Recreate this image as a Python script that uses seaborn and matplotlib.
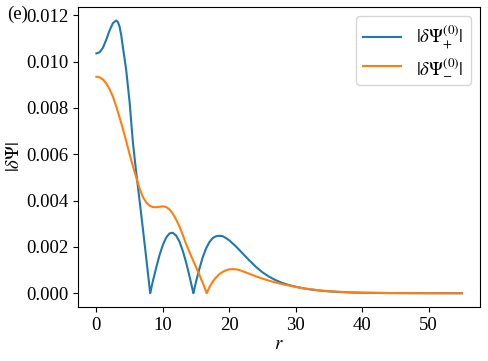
import matplotlib
matplotlib.use("Agg")
import matplotlib.pyplot as plt
import seaborn as sns

# |dPsi_+^(0)| (blue)
r_plus = [0, 0.5, 1.0, 1.5, 2.0, 2.5, 3.0, 3.25, 3.5, 3.75, 4.0, 4.25, 4.5, 5.0, 5.5, 6.0, 6.5,
          7.0, 7.5, 8.0, 8.1,
          8.5, 9.0, 9.5, 10.0, 10.5, 11.0, 11.5, 12.0, 12.5, 13.0, 13.5, 14.0, 14.5, 14.6,
          15.0, 15.5, 16.0, 16.5, 17.0, 17.5, 18.0, 18.5, 19.0, 19.5, 20.0, 21, 22, 23, 24, 25,
          26, 27, 28, 29, 30, 31, 32, 34, 36, 38, 40, 45, 50, 55]
psi_plus = [0.01035, 0.01040, 0.01060, 0.01095, 0.01135, 0.01166, 0.01177, 0.01170, 0.01150,
            0.01112, 0.01060, 0.01012, 0.00960, 0.00825, 0.00650, 0.00520, 0.00400,
            0.00278, 0.00153, 0.00025, 0.0,
            0.00052, 0.00110, 0.00164, 0.00208, 0.00240, 0.00258, 0.00261, 0.00249, 0.00223,
            0.00183, 0.00133, 0.00075, 0.00012, 0.0,
            0.00050, 0.00105, 0.00155, 0.00193, 0.00220, 0.00238, 0.00246, 0.00248, 0.00246,
            0.00238, 0.00228, 0.00202, 0.00172, 0.00142, 0.00114, 0.00090,
            0.00071, 0.00056, 0.00044, 0.00035, 0.00028, 0.00022, 0.00017, 0.00010, 0.00006,
            0.000035, 0.00002, 0.000005, 0.000001, 0.0]

# |dPsi_-^(0)| (orange)
r_minus = [0, 0.5, 1.0, 1.5, 2.0, 2.5, 3.0, 3.5, 4.0, 4.5, 5.0, 5.5, 6.0, 6.5, 7.0, 7.5, 8.0,
           8.5, 9.0, 9.5, 10.0, 10.5, 11.0, 11.5, 12.0, 12.5, 13.0, 13.5, 14.0, 14.5, 15.0,
           15.5, 16.0, 16.5, 16.6, 17.0, 17.5, 18.0, 18.5, 19.0, 19.5, 20.0, 20.5, 21.0, 21.5,
           22.0, 23, 24, 25, 26, 27, 28, 29, 30, 31, 32, 34, 36, 38, 40, 45, 50, 55]
psi_minus = [0.00934, 0.00932, 0.00922, 0.00905, 0.00880, 0.00848, 0.00805, 0.00758, 0.00708,
             0.00655, 0.00600, 0.00548, 0.00500, 0.00452, 0.00415, 0.00392, 0.00378,
             0.00372, 0.00371, 0.00373, 0.00375, 0.00372, 0.00362, 0.00343, 0.00318, 0.00288,
             0.00252, 0.00212, 0.00178, 0.00145, 0.00112,
             0.00080, 0.00045, 0.00008, 0.0, 0.00025, 0.00050, 0.00068, 0.00082, 0.00092,
             0.00099, 0.00103, 0.00104, 0.00103, 0.00100,
             0.00095, 0.00084, 0.00073, 0.00063, 0.00054, 0.00046, 0.00039, 0.00033, 0.00027,
             0.00022, 0.00018, 0.00011, 0.00007, 0.00004, 0.00002, 0.000005, 0.000001, 0.0]

labels = [r"$|\delta\Psi^{(0)}_{+}|$", r"$|\delta\Psi^{(0)}_{-}|$"]
xticks = [0, 10, 20, 30, 40, 50]
yticks = [0.000, 0.002, 0.004, 0.006, 0.008, 0.010, 0.012]
ytick_labels = ["0.000", "0.002", "0.004", "0.006", "0.008", "0.010", "0.012"]

plt.rcParams["font.family"] = ["Liberation Serif", "DejaVu Serif"]
plt.rcParams["mathtext.fontset"] = "stix"
plt.rcParams["font.size"] = 13.5

fig = plt.figure(figsize=(4.88, 3.61), dpi=100)
ax = fig.add_axes([0.160, 0.150, 0.824, 0.831])

sns.lineplot(x=r_plus, y=psi_plus, ax=ax, color="#1f77b4", label=labels[0], linewidth=1.5)
sns.lineplot(x=r_minus, y=psi_minus, ax=ax, color="#ff7f0e", label=labels[1], linewidth=1.5)

ax.set_xticks(xticks)
ax.set_yticks(yticks)
ax.set_yticklabels(ytick_labels)
ax.set_xlabel(r"$r$", labelpad=2)
ax.set_ylabel(r"$|\delta\Psi|$", labelpad=2)
ax.legend(loc="upper right", fontsize=13.5, labelspacing=0.3, borderpad=0.4)
fig.text(0.015, 0.948, "(e)", fontsize=13.5)

fig.savefig("out.png", dpi=100)
